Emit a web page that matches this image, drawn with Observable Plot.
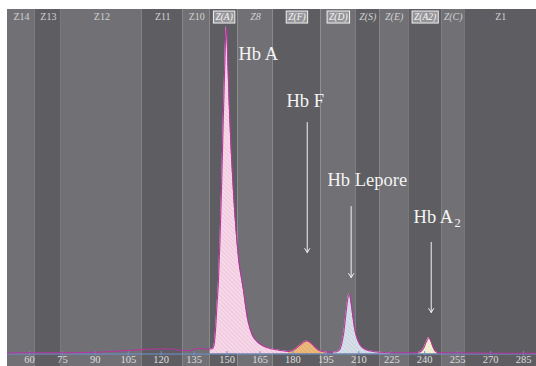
<!DOCTYPE html>
<html><head><meta charset="utf-8">
<script src="https://cdn.jsdelivr.net/npm/d3@7"></script>
<script src="https://cdn.jsdelivr.net/npm/@observablehq/plot@0.6"></script>
<style>body{margin:0;background:#fff;} svg{display:block}</style>
</head><body><div id="chart"></div>
<script>
// Zones (migration axis units)
const zoneNames = ["Z14","Z13","Z12","Z11","Z10","Z(A)","Z8","Z(F)","Z(D)","Z(S)","Z(E)","Z(A2)","Z(C)","Z1"];
const zoneStart = [50, 62.7, 74.5, 111.4, 130, 142.3, 155, 170.9, 192.7, 208.6, 219.5, 232.7, 247.7, 258.2];
const zoneEnd   = [62.7, 74.5, 111.4, 130, 142.3, 155, 170.9, 192.7, 208.6, 219.5, 232.7, 247.7, 258.2, 291];
const zoneBoxed = [false,false,false,false,false,true,false,true,true,false,false,true,false,false];
const zoneItalic = [false,false,false,false,false,true,true,true,true,true,true,true,true,false];

// Electropherogram trace
const traceX = [50.0, 60, 75, 90, 99.2, 108.3, 117.4, 124.2, 130.1, 133.3, 136.5, 140.2, 142.4,
  143.35, 144.03, 144.71, 145.4, 146.08, 146.76, 147.45, 148.13, 148.81, 149.27, 149.59, 149.95,
  150.41, 151.09, 152.0, 153.14, 154.28, 155.42, 156.56, 157.47, 158.38, 159.29, 160.43, 161.8,
  163.62, 165.67, 167.94, 170.68, 174.32, 177.96,
  179.78, 181.6, 182.97, 184.34, 186.16, 187.53, 188.9, 190.26, 191.63, 193.45, 195.73, 198.46,
  199.83, 201.2, 202.11, 203.02, 203.93, 204.84, 205.61, 206.43, 207.34, 208.25, 209.39, 210.76,
  212.58, 215.31, 218.96, 224.42, 233.53,
  237.17, 238.54, 239.68, 240.82, 241.86, 242.86, 243.78, 244.69, 245.83, 249.47, 290.9];
const traceY = [0.29, 0.35, 0.38, 0.49, 0.78, 1.16, 1.45, 1.45, 1.02, 1.02, 1.6, 1.45, 1.45,
  1.6, 2.47, 6.82, 14.08, 21.34, 32.95, 47.46, 64.88, 80.84, 91.0, 95.07, 92.45,
  83.74, 70.68, 57.62, 44.56, 34.4, 26.56, 21.92, 18.43, 14.08, 10.3, 7.4, 5.08,
  3.63, 2.61, 1.89, 1.45, 1.02, 0.73,
  1.02, 1.74, 2.47, 3.19, 3.77, 3.48, 2.76, 1.89, 1.16, 0.73, 0.58, 0.58,
  0.64, 1.16, 2.76, 5.66, 10.6, 15.53, 17.47, 14.95, 10.6, 6.82, 4.21, 2.47,
  1.45, 0.87, 0.49, 0.38, 0.38,
  0.49, 0.87, 1.89, 3.63, 4.7, 3.63, 2.03, 0.87, 0.44, 0.35, 0.2];

// Peaks (filled fractions)
const peakNames = ["Hb A", "Hb F", "Hb Lepore", "Hb A2"];
const peakFrom = [142.4, 177.96, 198.46, 237.17];
const peakTo   = [177.96, 195.73, 224.42, 245.83];

// Annotations
const labelText = ["Hb A", "Hb F", "Hb Lepore", "Hb A"];
const labelX = [155.2, 177.05, 195.73, 234.9];
const labelY = [87.2, 73.55, 50.5, 39.6];
const arrowX  = [186.5, 206.5, 242.95];
const arrowY1 = [67.2, 42.8, 32.4];
const arrowY2 = [29.46, 22.2, 12.05];

const tickValues = [60, 75, 90, 105, 120, 135, 150, 165, 180, 195, 210, 225, 240, 255, 270, 285];

// ---- build tables
const zones = zoneNames.map((n, i) => ({name: n, x1: zoneStart[i], x2: zoneEnd[i], mid: (zoneStart[i] + zoneEnd[i]) / 2,
  boxed: zoneBoxed[i], italic: zoneItalic[i], dark: i % 2 === 1}));
const trace = traceX.map((x, i) => ({x, y: traceY[i]}));
const patternIds = ["hatchA", "hatchF", "hatchL", "hatchA2"];
const labels = labelText.map((t, i) => ({t, x: labelX[i], y: labelY[i]}));
const arrows = arrowX.map((x, i) => ({x, y1: arrowY1[i], y2: arrowY2[i]}));

const serif = "'Liberation Serif', 'DejaVu Serif', serif";
const yTop = 100, yBottom = -5;

const plot = Plot.plot({
  width: 536, height: 366,
  marginLeft: 7, marginRight: 0, marginTop: 9, marginBottom: 12.5,
  x: {domain: [50, 290.9]},
  y: {domain: [0, 100], axis: null},
  style: {background: "transparent", fontFamily: serif},
  marks: [
    Plot.rect(zones, {x1: "x1", x2: "x2", y1: yBottom, y2: yTop, fill: d => d.dark ? "#5e5e62" : "#717175"}),
    ...peakNames.map((p, i) => Plot.areaY(trace.filter(d => d.x >= peakFrom[i] && d.x <= peakTo[i]),
      {x: "x", y: "y", fill: `url(#${patternIds[i]})`, curve: "monotone-x"})),
    Plot.ruleY([0], {stroke: "#6f8fcf", strokeWidth: 1}),
    Plot.ruleX(tickValues, {y1: -0.5, y2: 0.7, stroke: "#6f8fcf", strokeWidth: 1}),
    Plot.line(trace, {x: "x", y: "y", stroke: "#b8349f", strokeWidth: 1.1, curve: "monotone-x"}),
    Plot.axisX(tickValues, {tickSize: 0, tickPadding: 0, dy: 1.5, fontSize: 10.5, fill: "#dedede", fontFamily: serif}),
    Plot.text(zones.filter(d => !d.italic), {x: "mid", y: 97.97, text: "name", fontSize: 10, fill: "#d2d2d2", fontFamily: serif}),
    Plot.text(zones.filter(d => d.italic && !d.boxed), {x: "mid", y: 97.97, text: "name", fontSize: 10, fontStyle: "italic", fill: "#d2d2d2", fontFamily: serif}),
    Plot.text(zones.filter(d => d.boxed), {x: "mid", y: 97.97, text: "name", fontSize: 9.5, fontStyle: "italic", fill: "#f6f6f6", fontFamily: serif, className: "boxed-label"}),
    Plot.text(labels, {x: "x", y: "y", text: "t", textAnchor: "start", lineAnchor: "middle", fontSize: 18.5, fill: "#f4f4f4", fontFamily: serif}),
    Plot.text(labels.slice(3), {x: "x", y: "y", text: () => "2", textAnchor: "start", lineAnchor: "middle", dx: 41, dy: 5, fontSize: 12.5, fill: "#f4f4f4", fontFamily: serif}),
    Plot.arrow(arrows, {x1: "x", x2: "x", y1: "y1", y2: "y2", stroke: "#f2f2f2", strokeWidth: 1, headLength: 7, headAngle: 65, insetStart: 0, insetEnd: 0})
  ]
});
document.getElementById("chart").appendChild(plot);

// hatch patterns
const svg = d3.select(plot);
const defs = svg.insert("defs", ":first-child");
const pats = [["hatchA", "#f6d8e8", "#e3aacb"], ["hatchF", "#ecba7c", "#d29a5a"], ["hatchL", "#d8e0ea", "#aebccc"], ["hatchA2", "#f5f3d6", "#d9d6ac"]];
for (const [id, base, line] of pats) {
  const p = defs.append("pattern").attr("id", id).attr("width", 3).attr("height", 3)
    .attr("patternUnits", "userSpaceOnUse").attr("patternTransform", "rotate(-45)");
  p.append("rect").attr("width", 3).attr("height", 3).attr("fill", base);
  p.append("line").attr("x1", 0).attr("y1", 0).attr("x2", 0).attr("y2", 3).attr("stroke", line).attr("stroke-width", 0.8);
}

// boxes behind boxed zone labels
svg.selectAll("g.boxed-label text").each(function() {
  const b = this.getBBox();
  d3.select(this.parentNode).insert("rect", () => this)
    .attr("transform", this.getAttribute("transform"))
    .attr("x", b.x - 2).attr("y", b.y - 0.5).attr("width", b.width + 4).attr("height", b.height + 1)
    .attr("fill", "#959599").attr("stroke", "#f2f2f2").attr("stroke-width", 1);
});
</script></body></html>
